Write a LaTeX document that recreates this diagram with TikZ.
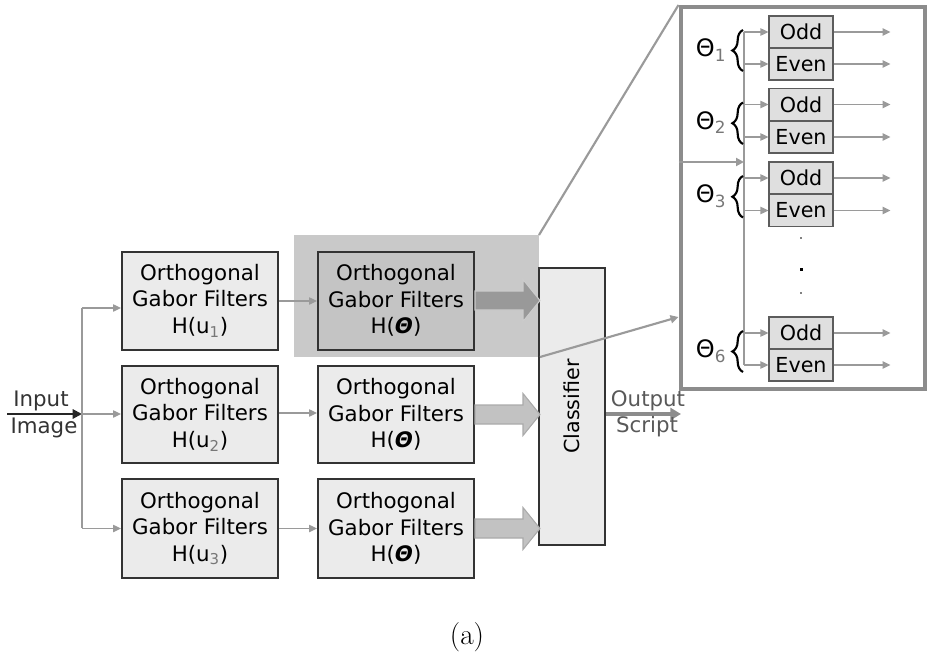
\documentclass[tikz,border=0pt]{standalone}
\usepackage{fontspec}
\newfontfamily\vf{DejaVu Sans}
\usetikzlibrary{arrows.meta,calc,decorations.pathreplacing}
\definecolor{boxfill}{HTML}{EBEBEB}
\definecolor{boxline}{HTML}{333333}
\definecolor{hlfill}{HTML}{C9C9C9}
\definecolor{hlbox}{HTML}{C4C4C4}
\definecolor{linegray}{HTML}{9A9A9A}
\definecolor{subgray}{HTML}{777777}
\definecolor{panelline}{HTML}{8C8C8C}
\definecolor{bigfill}{HTML}{C2C2C2}
\definecolor{bigline}{HTML}{AAAAAA}
\definecolor{bigdark}{HTML}{AAAAAA}
\newcommand{\sbg}[1]{\textsubscript{\textcolor{subgray}{#1}}}
\newcommand{\thb}{\textbf{\textit{Θ}}}
\tikzset{
  filt/.style={draw=boxline, line width=1.5pt, fill=boxfill, minimum width=117pt, inner sep=0pt,
     align=center, font=\vf\fontsize{16}{20}\selectfont},
  oebox/.style={draw=boxline!80, line width=0.8pt, fill=boxfill!95!black, minimum width=48pt, minimum height=24pt, inner sep=0pt,
     font=\vf\fontsize{15.5}{18}\selectfont},
  thinarr/.style={draw=linegray, line width=1pt, -{Triangle[width=5.5pt,length=6pt]}},
  lbl/.style={font=\vf\fontsize{16}{18}\selectfont, inner sep=0pt},
  thlbl/.style={font=\vf\fontsize{18}{20}\selectfont, inner sep=0pt},
  brc/.style={decorate, decoration={brace, amplitude=8pt}, line width=1.6pt, black},
}
\begin{document}
\begin{tikzpicture}[x=0.75pt,y=-0.75pt]
\useasboundingbox (0,0) rectangle (927,656);
% highlight
\fill[hlfill] (294,235) rectangle (539,357);
% filter boxes
\node[filt, minimum height=73.5pt] (u1) at (200,300.5) {Orthogonal\\Gabor Filters\\H(u\sbg{1})};
\node[filt, minimum height=73pt] (u2) at (200,414.5) {Orthogonal\\Gabor Filters\\H(u\sbg{2})};
\node[filt, minimum height=74pt] (u3) at (200,528.5) {Orthogonal\\Gabor Filters\\H(u\sbg{3})};
\node[filt, fill=hlbox, minimum height=73.5pt] (t1) at (396,300.5) {Orthogonal\\Gabor Filters\\H(\thb)};
\node[filt, minimum height=73pt] (t2) at (396,414.5) {Orthogonal\\Gabor Filters\\H(\thb)};
\node[filt, minimum height=74pt] (t3) at (396,528.5) {Orthogonal\\Gabor Filters\\H(\thb)};
% classifier
\node[draw=boxline, line width=1.5pt, fill=boxfill, minimum width=49.5pt, minimum height=208pt, inner sep=0pt] (cls) at (572,406.5) {};
\node[font=\vf\fontsize{15.5}{18}\selectfont, rotate=90] (clst) at (cls.center) {Classifier};
% big arrows
\foreach \t/\f/\d in {t1/bigdark!90!black/bigline!60!white, t2/bigfill/bigline, t3/bigfill/bigline}{
  \draw[fill=\f, draw=\d, line width=0.8pt]
    ($(\t.east)+(0,-9.5)$) -- ++(48,0) -- ++(0,-11.5) -- ($(\t.east)+(65,0)$)
    -- ($(\t.east)+(48,21)$) -- ++(0,-11.5) -- ($(\t.east)+(0,9.5)$) -- cycle;
}
% input
\coordinate (split) at (82,414);
\coordinate (inl) at (7,414);
\draw[black!85, line width=1.5pt, -{Triangle[width=7pt,length=7pt]}] (inl) -- (split);
\node[lbl, text=black!80] (inp) at (41,401) {Input};
\node[lbl, text=black!80] (img) at (44,428) {Image};
\draw[linegray, line width=1pt] (split |- 0,308) -- (split |- 0,528);
\draw[thinarr] (split |- 0,308) -- (u1.west |- 0,308);
\draw[thinarr] (split) -- (u2.west |- split);
\draw[thinarr] (split |- u3.west) -- (u3.west);
\draw[thinarr] (u1.east |- 0,301) -- (t1.west |- 0,301);
\draw[thinarr] (u2.east |- 0,413) -- (t2.west |- 0,413);
\draw[thinarr] (u3.east) -- (t3.west);
% output
\coordinate (outend) at (681,414);
\draw[panelline, line width=2.5pt, -{Triangle[width=9pt,length=8pt]}] (cls.east |- outend) -- (outend);
\node[lbl, text=black!65] (outt) at (648,401) {Output};
\node[lbl, text=black!65] (scr) at (647,427) {Script};
% panel
\node[draw=panelline, line width=3pt, fill=white, minimum width=183pt, minimum height=286.5pt, inner sep=0pt] (panel) at (802.5,198) {};
\draw[linegray, line width=1.6pt] (539,235) -- (panel.north west);
\draw[linegray, line width=1.6pt, -{Triangle[width=6pt,length=6pt]}] (540,357) -- (panel.west |- 0,317);
% inside panel
\coordinate (vtop) at (744,32);
\coordinate (vbot) at (744,365);
\draw[linegray, line width=1pt] (vtop) -- (vbot);
\draw[linegray, line width=1.6pt, -{Triangle[width=6pt,length=6pt]}] (panel.west |- 0,162) -- (vtop |- 0,162);
\foreach \i/\yo/\ye in {1/32/64, 2/104.5/137, 3/178/210.5, 6/333/365}{
  \node[oebox] (odd\i) at (801,\yo) {Odd};
  \node[oebox] (even\i) at (801,\ye) {Even};
  \draw[thinarr] (vtop |- odd\i.west) -- (odd\i.west);
  \draw[thinarr] (vtop |- even\i.west) -- (even\i.west);
  \draw[thinarr] (odd\i.east) -- ++(57,0);
  \draw[thinarr] (even\i.east) -- ++(57,0);
  \coordinate (bt\i) at (743,\yo-2);
  \coordinate (bb\i) at (743,\ye+7);
  \draw[brc] (bb\i) -- (bt\i);
  \node[thlbl] (th\i) at (711,{(\yo+\ye)/2+2}) {Θ\sbg{\i}};
}
% dots
\fill (801,238) circle (0.9);
\fill (799.5,267.5) rectangle (802.5,270.5);
\fill (801,293) circle (0.9);
% caption
\node[font=\fontsize{22}{26}\selectfont, inner sep=0pt] (cap) at (467,637) {(a)};
\end{tikzpicture}
\end{document}
